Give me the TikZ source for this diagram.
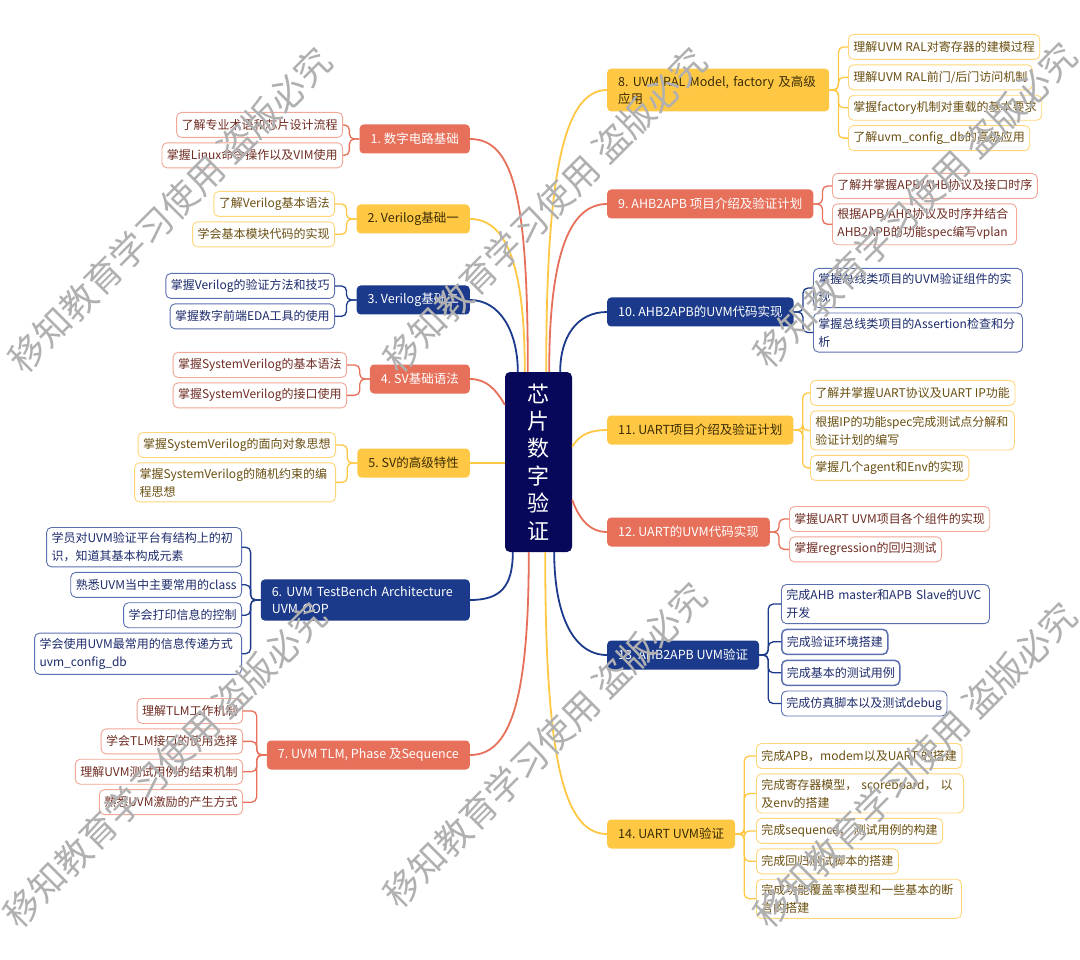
\documentclass[tikz,border=0pt]{standalone}
\usepackage{fontspec}
\setmainfont{Noto Sans CJK SC}
\frenchspacing
\usetikzlibrary{positioning}

\definecolor{salMain}{HTML}{E7705A}
\definecolor{yelMain}{HTML}{FFC844}
\definecolor{navMain}{HTML}{1B3A8B}
\definecolor{ctrFill}{HTML}{07085A}
\definecolor{salEdge}{HTML}{F2A696}
\definecolor{yelEdge}{HTML}{FFD77A}
\definecolor{navEdge}{HTML}{5B70B0}
\definecolor{salText}{HTML}{6F2C22}
\definecolor{yelText}{HTML}{6A4F10}
\definecolor{navText}{HTML}{1D2C6C}
\definecolor{yelTopic}{HTML}{3A2C05}

\begin{document}
\begin{tikzpicture}[x=1pt, y=-1pt,
    % topic boxes
    topic/.style={rounded corners=4pt, minimum height=29pt, inner xsep=11pt, inner ysep=7pt,
        font=\fontsize{12.5}{17}\selectfont, align=left},
    topicR/.style={topic, fill=salMain, text=white},
    topicY/.style={topic, fill=yelMain, text=yelTopic},
    topicN/.style={topic, fill=navMain, text=white},
    % sub boxes
    sub/.style={draw, fill=white, line width=0.9pt, rounded corners=5pt, minimum height=25pt,
        inner xsep=5pt, inner ysep=5pt, font=\fontsize{12}{18}\selectfont, align=left},
    subR/.style={sub, draw=salEdge, text=salText},
    subY/.style={sub, draw=yelEdge, text=yelText},
    subN/.style={sub, draw=navEdge, text=navText},
    % lines
    branch/.style={line width=1.8pt},
    brk/.style={line width=1.3pt, rounded corners=5pt},
    wmark/.style={text=gray!62, font=\fontsize{36}{36}\selectfont, rotate=45},
    node distance=4.5pt
]
\useasboundingbox (0,0) rectangle (1080,960);
\fill[white] (0,0) rectangle (1080,960);

% centre
\node[fill=ctrFill, text=white, rounded corners=5pt, minimum width=67pt, minimum height=180pt,
    align=center, font=\fontsize{22}{27.4}\selectfont] (ctr) at (538.5,462) {芯\\片\\数\\字\\验\\证};

% left topics
\node[topicR, anchor=east] (m1) at (470,139) {1. 数字电路基础};
\node[topicY, anchor=east] (m2) at (470,219) {2. Verilog基础一};
\node[topicN, anchor=east] (m3) at (470,300) {3. Verilog基础二};
\node[topicR, anchor=east] (m4) at (470,379) {4. SV基础语法};
\node[topicY, anchor=east] (m5) at (470,463) {5. SV的高级特性};
\node[topicN, anchor=east, text width=187pt] (m6) at (470,600) {6. UVM TestBench Architecture\\UVM OOP};
\node[topicR, anchor=east] (m7) at (470,755) {7. UVM TLM, Phase 及Sequence};

% right topics
\node[topicY, anchor=west, text width=200pt] (m8) at (607,90) {8. UVM RAL Model, factory 及高级\\应用};
\node[topicR, anchor=west] (m9) at (607,204) {9. AHB2APB 项目介绍及验证计划};
\node[topicN, anchor=west] (m10) at (607,312) {10. AHB2APB的UVM代码实现};
\node[topicY, anchor=west] (m11) at (607,430) {11. UART项目介绍及验证计划};
\node[topicR, anchor=west] (m12) at (607,532) {12. UART的UVM代码实现};
\node[topicN, anchor=west] (m13) at (607,655) {13. AHB2APB UVM验证};
\node[topicY, anchor=west] (m14) at (607,834) {14. UART UVM验证};

% left sub boxes
\node[subR, anchor=north east] (c11) at (343,112) {了解专业术语和芯片设计流程};
\node[subR, below=of c11.south east, anchor=north east] (c12) {掌握Linux命令操作以及VIM使用};

\node[subY, anchor=north east] (c21) at (335,191) {了解Verilog基本语法};
\node[subY, below=of c21.south east, anchor=north east] (c22) {学会基本模块代码的实现};

\node[subN, anchor=north east] (c31) at (335,273) {掌握Verilog的验证方法和技巧};
\node[subN, below=of c31.south east, anchor=north east] (c32) {掌握数字前端EDA工具的使用};

\node[subR, anchor=north east] (c41) at (347,352) {掌握SystemVerilog的基本语法};
\node[subR, below=of c41.south east, anchor=north east] (c42) {掌握SystemVerilog的接口使用};

\node[subY, anchor=north east] (c51) at (336,432) {掌握SystemVerilog的面向对象思想};
\node[subY, below=of c51.south east, anchor=north east, text width=191pt] (c52) {掌握SystemVerilog的随机约束的编\\程思想};

\node[subN, anchor=north east, text width=185pt] (c61) at (242,527) {学员对UVM验证平台有结构上的初\\识，知道其基本构成元素};
\node[subN, below=of c61.south east, anchor=north east] (c62) {熟悉UVM当中主要常用的class};
\node[subN, below=of c62.south east, anchor=north east] (c63) {学会打印信息的控制};
\node[subN, below=of c63.south east, anchor=north east, text width=197pt] (c64) {学会使用UVM最常用的信息传递方式\\uvm\_config\_db};

\node[subR, anchor=north east] (c71) at (243,698) {理解TLM工作机制};
\node[subR, below=of c71.south east, anchor=north east] (c72) {学会TLM接口的使用选择};
\node[subR, below=of c72.south east, anchor=north east] (c73) {理解UVM测试用例的结束机制};
\node[subR, below=of c73.south east, anchor=north east] (c74) {熟悉UVM激励的产生方式};

% right sub boxes
\node[subY, anchor=north west] (c81) at (848,34) {理解UVM RAL对寄存器的建模过程};
\node[subY, below=of c81.south west, anchor=north west] (c82) {理解UVM RAL前门/后门访问机制};
\node[subY, below=of c82.south west, anchor=north west] (c83) {掌握factory机制对重载的基本要求};
\node[subY, below=of c83.south west, anchor=north west] (c84) {了解uvm\_config\_db的高级应用};

\node[subR, anchor=north west] (c91) at (832,173) {了解并掌握APB/AHB协议及接口时序};
\node[subR, below=of c91.south west, anchor=north west, text width=174pt] (c92) {根据APB/AHB协议及时序并结合\\AHB2APB的功能spec编写vplan};

\node[subN, anchor=north west, text width=199pt] (c101) at (813,268) {掌握总线类项目的UVM验证组件的实\\现};
\node[subN, below=of c101.south west, anchor=north west, text width=199pt] (c102) {掌握总线类项目的Assertion检查和分\\析};

\node[subY, anchor=north west] (c111) at (810,380) {了解并掌握UART协议及UART IP功能};
\node[subY, below=of c111.south west, anchor=north west, text width=194pt] (c112) {根据IP的功能spec完成测试点分解和\\验证计划的编写};
\node[subY, below=of c112.south west, anchor=north west] (c113) {掌握几个agent和Env的实现};

\node[subR, anchor=north west] (c121) at (789,506) {掌握UART UVM项目各个组件的实现};
\node[subR, below=of c121.south west, anchor=north west] (c122) {掌握regression的回归测试};

\node[subN, anchor=north west, text width=198pt] (c131) at (781,584) {完成AHB master和APB Slave的UVC\\开发};
\node[subN, below=of c131.south west, anchor=north west, line width=1.5pt] (c132) {完成验证环境搭建};
\node[subN, below=of c132.south west, anchor=north west, line width=1.5pt] (c133) {完成基本的测试用例};
\node[subN, below=of c133.south west, anchor=north west] (c134) {完成仿真脚本以及测试debug};

\node[subY, anchor=north west] (c141) at (756,743) {完成APB，modem以及UART 的搭建};
\node[subY, below=of c141.south west, anchor=north west, text width=197pt] (c142) {完成寄存器模型， scoreboard， 以\\及env的搭建};
\node[subY, below=of c142.south west, anchor=north west] (c143) {完成sequence， 测试用例的构建};
\node[subY, below=of c143.south west, anchor=north west] (c144) {完成回归测试脚本的搭建};
\node[subY, below=of c144.south west, anchor=north west, text width=195pt] (c145) {完成功能覆盖率模型和一些基本的断\\言的搭建};

% branches to the centre
\draw[branch, salMain] (m1.east) .. controls +(45pt,0) and +(0,170pt) .. ([xshift=23pt]ctr.north west);
\draw[branch, yelMain] (m2.east) .. controls +(35pt,0) and +(0,110pt) .. ([xshift=20pt]ctr.north west);
\draw[branch, navMain] (m3.east) .. controls +(30pt,0) and +(0,40pt) .. ([xshift=13pt]ctr.north west);
\draw[branch, salMain] (m4.east) to[out=0, in=120] ([yshift=-33pt]ctr.north west);
\draw[branch, yelMain] (m5.east) -- (m5.east -| ctr.west);
\draw[branch, navMain] (m6.east) .. controls +(30pt,0) and +(0,-35pt) .. ([xshift=8pt]ctr.south west);
\draw[branch, salMain] (m7.east) .. controls +(40pt,0) and +(0,-150pt) .. ([xshift=24pt]ctr.south west);

\draw[branch, yelMain] (m8.west) .. controls +(-45pt,0) and +(0,190pt) .. ([xshift=-26pt]ctr.north east);
\draw[branch, salMain] (m9.west) .. controls +(-40pt,0) and +(0,110pt) .. ([xshift=-23pt]ctr.north east);
\draw[branch, navMain] (m10.west) .. controls +(-30pt,0) and +(0,35pt) .. ([xshift=-12pt]ctr.north east);
\draw[branch, yelMain] (m11.west) to[out=180, in=60] ([yshift=-75pt]ctr.north east);
\draw[branch, salMain] (m12.west) to[out=180, in=-70] ([yshift=-128pt]ctr.north east);
\draw[branch, navMain] (m13.west) .. controls +(-35pt,0) and +(0,-60pt) .. ([xshift=-18pt]ctr.south east);
\draw[branch, yelMain] (m14.west) .. controls +(-45pt,0) and +(0,-200pt) .. ([xshift=-27pt]ctr.south east);

% brackets to sub boxes
\foreach \c in {c11,c12} \draw[brk, salMain] (m1.west) -- ++(-10pt,0) |- (\c.east);
\foreach \c in {c21,c22} \draw[brk, yelMain] (m2.west) -- ++(-10pt,0) |- (\c.east);
\foreach \c in {c31,c32} \draw[brk, navMain] (m3.west) -- ++(-10pt,0) |- (\c.east);
\foreach \c in {c41,c42} \draw[brk, salMain] (m4.west) -- ++(-10pt,0) |- (\c.east);
\foreach \c in {c51,c52} \draw[brk, yelMain] (m5.west) -- ++(-10pt,0) |- (\c.east);
\foreach \c in {c61,c62,c63,c64} \draw[brk, navMain] (m6.west) -- ++(-10pt,0) |- (\c.east);
\foreach \c in {c71,c72,c73,c74} \draw[brk, salMain] (m7.west) -- ++(-10pt,0) |- (\c.east);

\foreach \c in {c81,c82,c83,c84} \draw[brk, yelMain] (m8.east) -- ++(9pt,0) |- (\c.west);
\foreach \c in {c91,c92} \draw[brk, salMain] (m9.east) -- ++(9pt,0) |- (\c.west);
\foreach \c in {c101,c102} \draw[brk, navMain] (m10.east) -- ++(9pt,0) |- (\c.west);
\foreach \c in {c111,c112,c113} \draw[brk, yelMain] (m11.east) -- ++(9pt,0) |- (\c.west);
\foreach \c in {c121,c122} \draw[brk, salMain] (m12.east) -- ++(9pt,0) |- (\c.west);
\foreach \c in {c131,c132,c133,c134} \draw[brk, navMain] (m13.east) -- ++(9pt,0) |- (\c.west);
\foreach \c in {c141,c142,c143,c144,c145} \draw[brk, yelMain] (m14.east) -- ++(9pt,0) |- (\c.west);

% watermark
\node[wmark] (w1) at (170,210) {移知教育学习使用 盗版必究};
\node[wmark] (w2) at (545,210) {移知教育学习使用 盗版必究};
\node[wmark] (w3) at (915,205) {移知教育学习使用 盗版必究};
\node[wmark] (w4) at (165,765) {移知教育学习使用 盗版必究};
\node[wmark] (w5) at (545,745) {移知教育学习使用 盗版必究};
\node[wmark] (w6) at (915,765) {移知教育学习使用 盗版必究};

\end{tikzpicture}
\end{document}
